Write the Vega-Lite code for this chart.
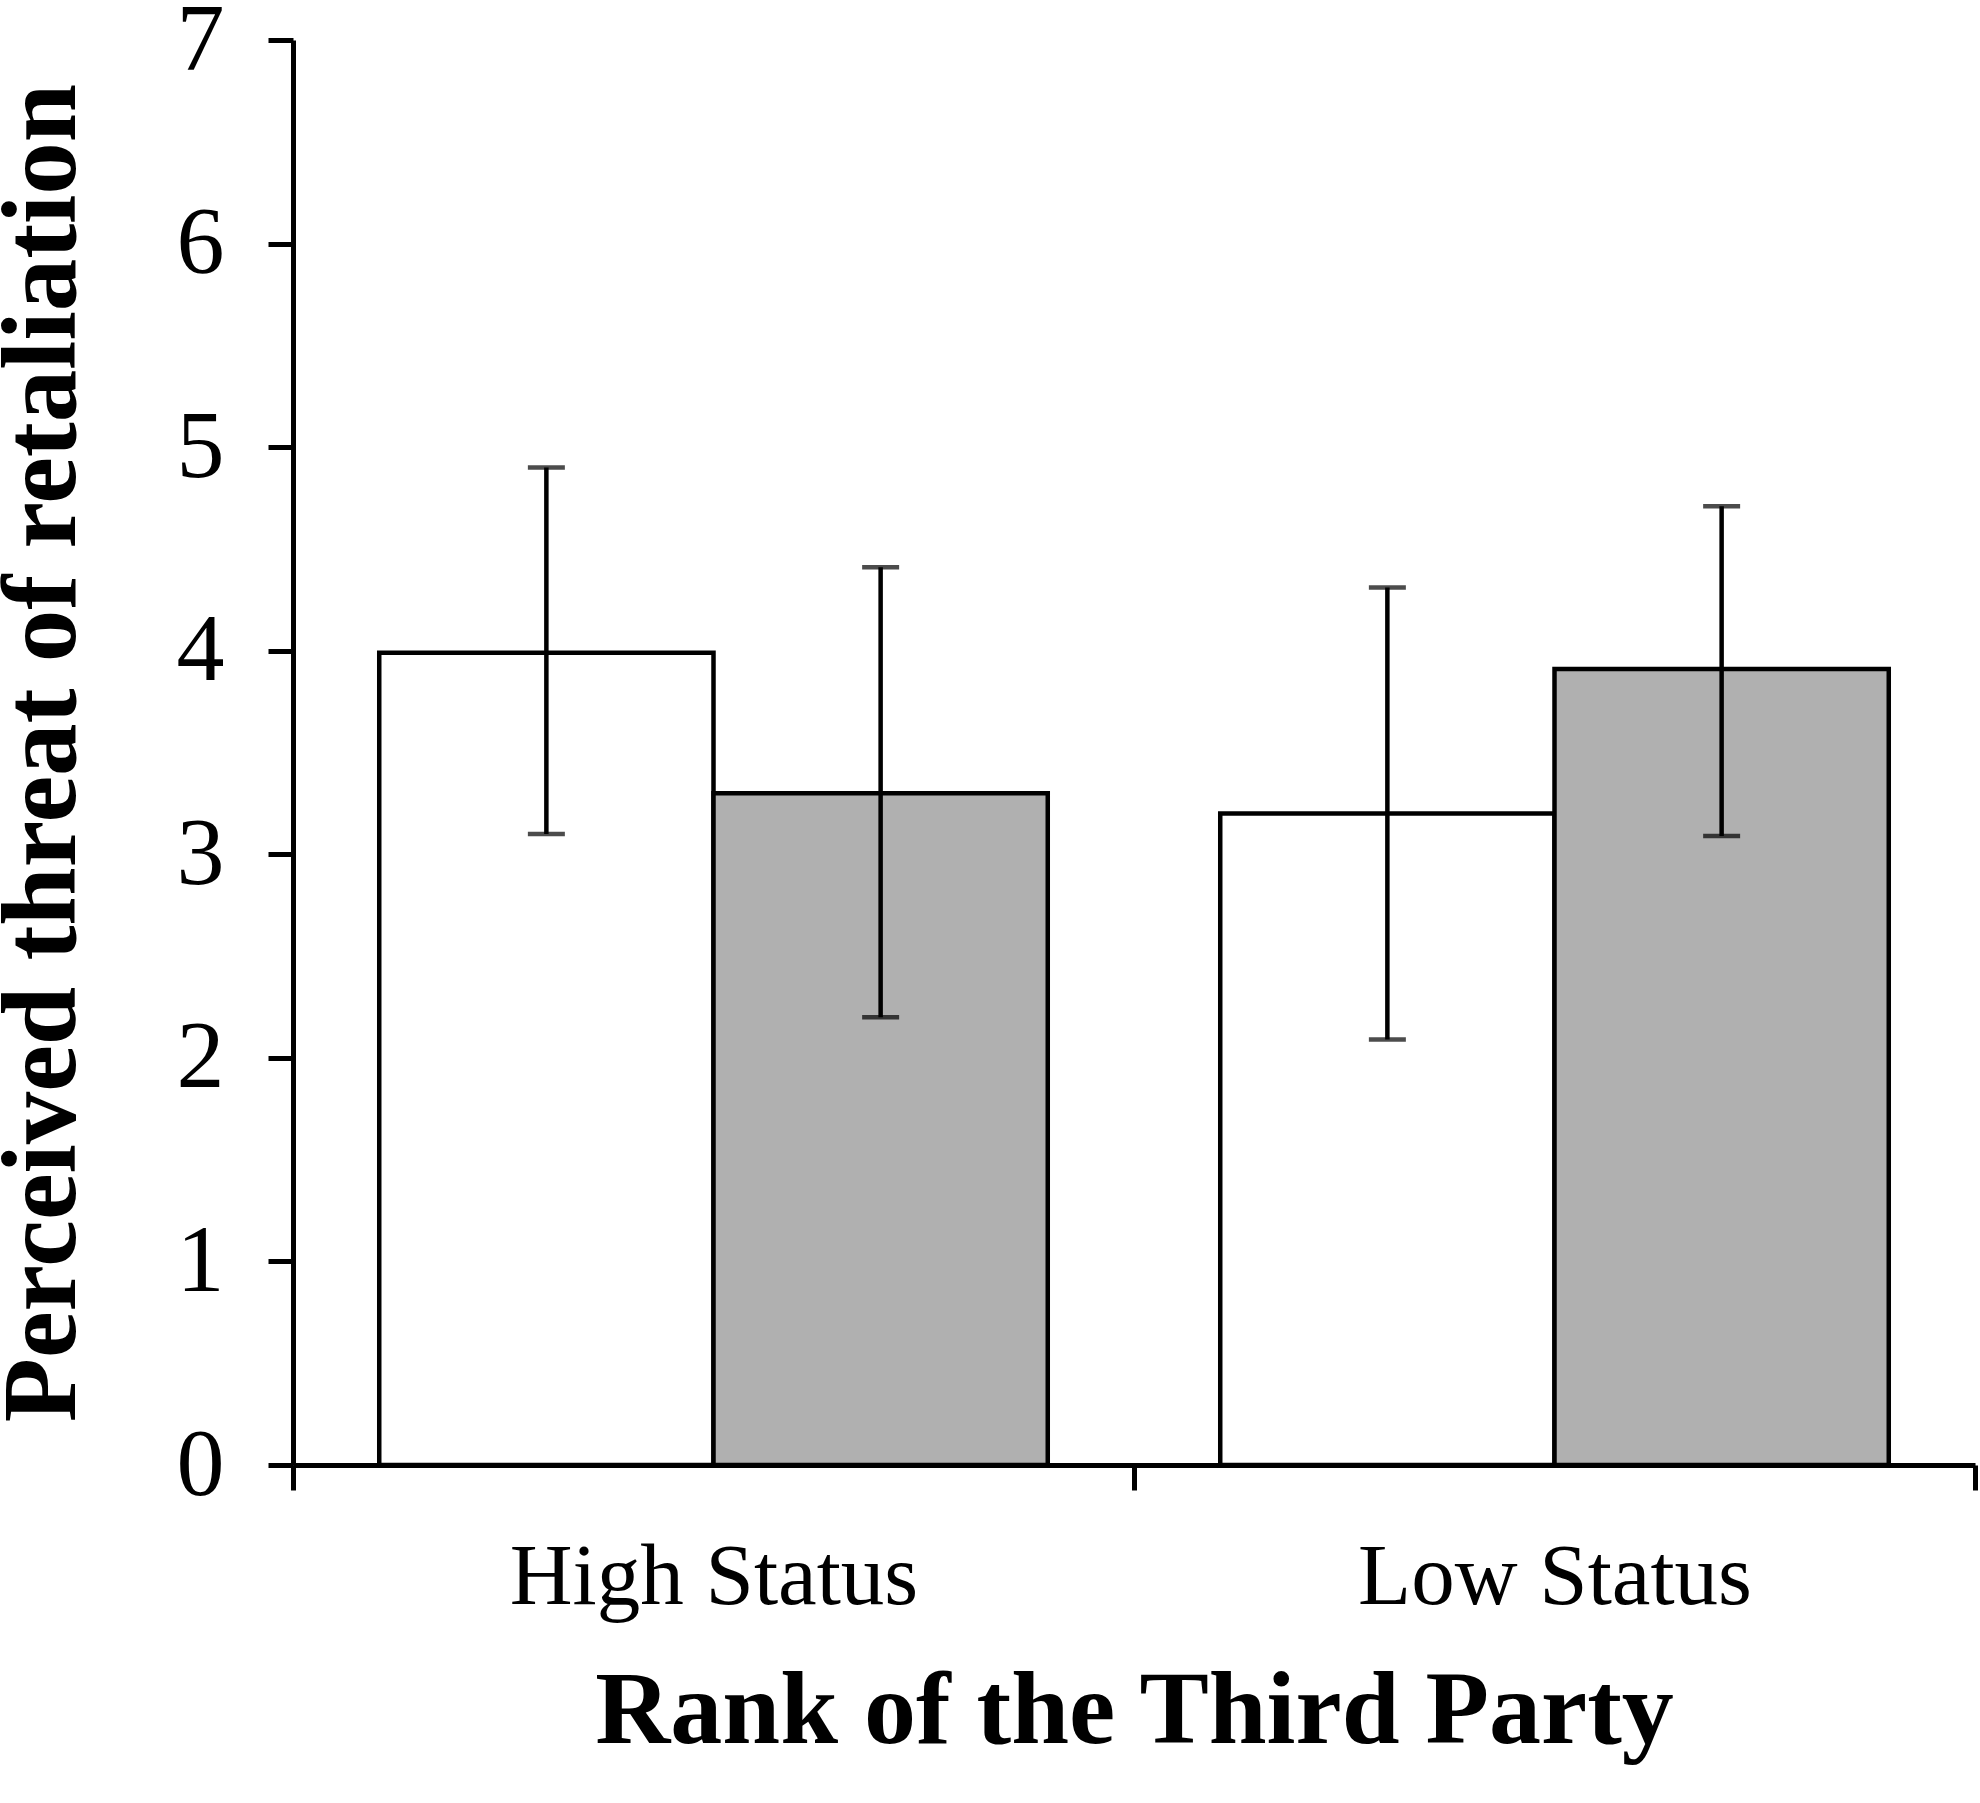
{
  "$schema": "https://vega.github.io/schema/vega-lite/v6.json",
  "autosize": "none",
  "width": 1682,
  "height": 1425,
  "padding": {"left": 293, "top": 40, "right": 5, "bottom": 338},
  "background": "white",
  "config": {
    "view": {"stroke": null},
    "font": "Liberation Serif"
  },
  "data": {
    "values": [
      {"status": "High Status", "condition": "Condition 1", "mean": 3.99, "lo": 3.1, "hi": 4.9},
      {"status": "High Status", "condition": "Condition 2", "mean": 3.3, "lo": 2.2, "hi": 4.41},
      {"status": "Low Status", "condition": "Condition 1", "mean": 3.2, "lo": 2.09, "hi": 4.31},
      {"status": "Low Status", "condition": "Condition 2", "mean": 3.91, "lo": 3.09, "hi": 4.71}
    ]
  },
  "encoding": {
    "x": {
      "field": "status",
      "type": "nominal",
      "sort": ["High Status", "Low Status"],
      "scale": {"paddingInner": 0, "paddingOuter": 0},
      "axis": {
        "title": "Rank of the Third Party",
        "titleFont": "Liberation Serif",
        "titleFontSize": 104,
        "titleFontWeight": "bold",
        "titleColor": "black",
        "titlePadding": 40,
        "labelFont": "Liberation Serif",
        "labelFontSize": 87,
        "labelColor": "black",
        "labelAngle": 0,
        "labelLimit": 0,
        "labelBaseline": "alphabetic",
        "labelPadding": 113,
        "tickBand": "extent",
        "tickSize": 25,
        "tickWidth": 5,
        "tickColor": "black",
        "domainColor": "black",
        "domainWidth": 5
      }
    },
    "xOffset": {
      "field": "condition",
      "type": "nominal",
      "scale": {"paddingInner": 0, "paddingOuter": 0.258}
    }
  },
  "layer": [
    {
      "mark": {"type": "bar", "stroke": "black", "strokeWidth": 4.5},
      "encoding": {
        "y": {
          "field": "mean",
          "type": "quantitative",
          "scale": {"domain": [0, 7], "nice": false},
          "axis": {
            "values": [0, 1, 2, 3, 4, 5, 6, 7],
            "format": "d",
            "grid": false,
            "title": "Perceived threat of retaliation",
            "titleFont": "Liberation Serif",
            "titleFontSize": 105,
            "titleFontWeight": "bold",
            "titleColor": "black",
            "titlePadding": 80,
            "labelFont": "Liberation Serif",
            "labelFontSize": 96,
            "labelColor": "black",
            "labelPadding": 44,
            "tickSize": 25,
            "tickWidth": 5,
            "tickColor": "black",
            "domainColor": "black",
            "domainWidth": 5
          }
        },
        "fill": {
          "field": "condition",
          "type": "nominal",
          "scale": {"domain": ["Condition 1", "Condition 2"], "range": ["#ffffff", "#b0b0b0"]},
          "legend": null
        }
      }
    },
    {
      "mark": {"type": "rule", "color": "black", "strokeWidth": 4.5},
      "encoding": {
        "y": {"field": "lo", "type": "quantitative"},
        "y2": {"field": "hi"}
      }
    },
    {
      "mark": {"type": "tick", "color": "black", "size": 37, "thickness": 4.5, "orient": "horizontal"},
      "encoding": {
        "y": {"field": "lo", "type": "quantitative"}
      }
    },
    {
      "mark": {"type": "tick", "color": "black", "size": 37, "thickness": 4.5, "orient": "horizontal"},
      "encoding": {
        "y": {"field": "hi", "type": "quantitative"}
      }
    }
  ]
}
